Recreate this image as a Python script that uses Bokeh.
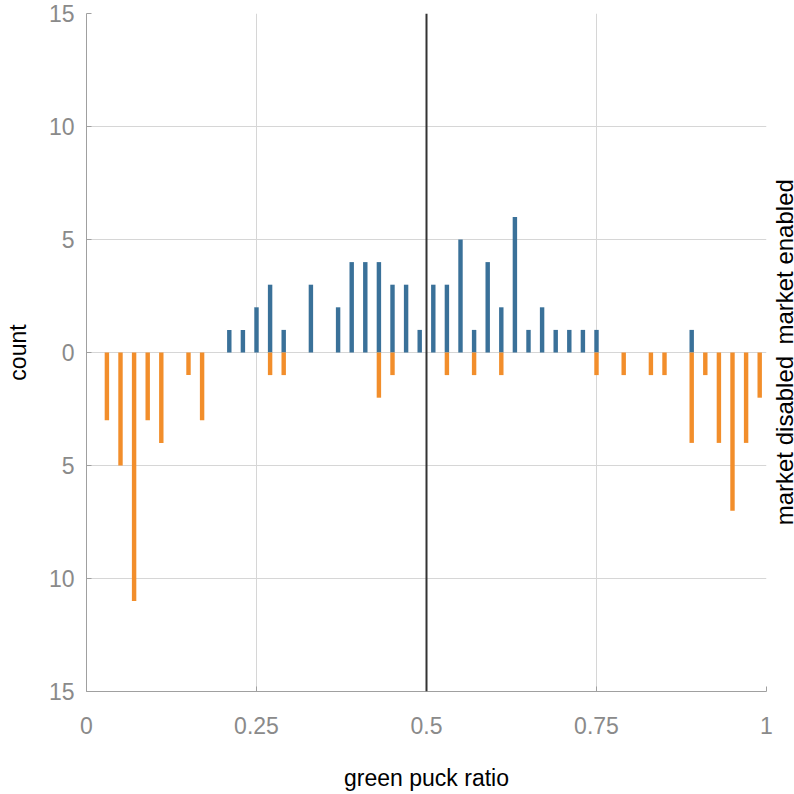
from bokeh.plotting import figure
from bokeh.layouts import row
from bokeh.models import Span, FixedTicker, CustomJSTickFormatter
from bokeh.core.properties import value
from bokeh.embed import file_html
from bokeh.resources import INLINE
import math

# bin centers (green puck ratio) and counts
enabled_bins = [0.21, 0.23, 0.25, 0.27, 0.29, 0.33, 0.37, 0.39, 0.41, 0.43, 0.45, 0.47, 0.49,
                0.51, 0.53, 0.55, 0.57, 0.59, 0.61, 0.63, 0.65, 0.67, 0.69, 0.71, 0.73, 0.75, 0.89]
enabled_counts = [1, 1, 2, 3, 1, 3, 2, 4, 4, 4, 3, 3, 1,
                  3, 3, 5, 1, 4, 2, 6, 1, 2, 1, 1, 1, 1, 1]

disabled_bins = [0.03, 0.05, 0.07, 0.09, 0.11, 0.15, 0.17, 0.27, 0.29, 0.43, 0.45, 0.53, 0.57,
                 0.61, 0.75, 0.79, 0.83, 0.85, 0.89, 0.91, 0.93, 0.95, 0.97, 0.99]
disabled_counts = [3, 5, 11, 3, 4, 1, 3, 1, 1, 2, 1, 1, 1,
                   1, 1, 1, 1, 1, 4, 1, 4, 7, 4, 2]

x_ticks = [0, 0.25, 0.5, 0.75, 1]
y_ticks = [-15, -10, -5, 0, 5, 10, 15]
label_enabled = "market enabled"
label_disabled = "market disabled"

BLUE = "#3a7199"
ORANGE = "#f28e2b"
GRAY = "#8a8a8a"
FONT = "Liberation Sans"
FS = "23px"

p = figure(width=774, height=794, x_range=(0, 1), y_range=(-15, 15),
           output_backend="svg", toolbar_location=None,
           min_border_left=86, min_border_right=8, min_border_top=13, min_border_bottom=103)
p.outline_line_color = None

p.vbar(x=enabled_bins, top=enabled_counts, bottom=0, width=0.0065,
       color=BLUE, line_color=None)
p.vbar(x=disabled_bins, top=0, bottom=[-c for c in disabled_counts], width=0.0065,
       color=ORANGE, line_color=None)

p.add_layout(Span(location=0.5, dimension="height", line_color="#333333", line_width=2))

# axes
p.xaxis.ticker = FixedTicker(ticks=x_ticks)
p.yaxis.ticker = FixedTicker(ticks=y_ticks)
p.xaxis.formatter = CustomJSTickFormatter(code="return String(tick);")
p.yaxis.formatter = CustomJSTickFormatter(code="return String(Math.abs(tick));")
for ax in (p.xaxis, p.yaxis):
    ax.axis_line_color = "#a0a0a0"
    ax.major_tick_line_color = "#a0a0a0"
    ax.major_tick_in = 5
    ax.major_tick_out = 0
    ax.minor_tick_line_color = None
    ax.major_label_text_font = FONT
    ax.major_label_text_font_size = FS
    ax.major_label_text_color = GRAY
    ax.axis_label_text_font = FONT
    ax.axis_label_text_font_size = FS
    ax.axis_label_text_font_style = "normal"
    ax.axis_label_text_color = "black"

p.xaxis.axis_label = "green puck ratio"
p.yaxis.axis_label = "count"
p.xaxis.major_label_standoff = 25
p.xaxis.axis_label_standoff = 28
p.yaxis.major_label_standoff = 12
p.yaxis.axis_label_standoff = 15

p.xgrid.ticker = FixedTicker(ticks=[0.25, 0.75, 1])
p.ygrid.ticker = FixedTicker(ticks=[-10, -5, 0, 5, 10])
p.xgrid.grid_line_color = "#d6d6d6"
p.ygrid.grid_line_color = "#d6d6d6"

# narrow side strip carrying the group labels
s = figure(width=20, height=794, x_range=(0, 1), y_range=p.y_range,
           output_backend="svg", toolbar_location=None,
           x_axis_location=None, y_axis_location=None,
           min_border_left=0, min_border_right=0, min_border_top=13, min_border_bottom=103)
s.outline_line_color = None
s.grid.visible = False
s.text(x=[0.5], y=[0.35], text=[label_enabled], angle=math.pi / 2,
       text_align="left", text_baseline="middle",
       text_font=value(FONT), text_font_size="24px", text_color="black")
s.text(x=[0.5], y=[-0.15], text=[label_disabled], angle=math.pi / 2,
       text_align="right", text_baseline="middle",
       text_font=value(FONT), text_font_size="24px", text_color="black")

layout = row(p, s)
open("out.html", "w").write(file_html(layout, INLINE))
